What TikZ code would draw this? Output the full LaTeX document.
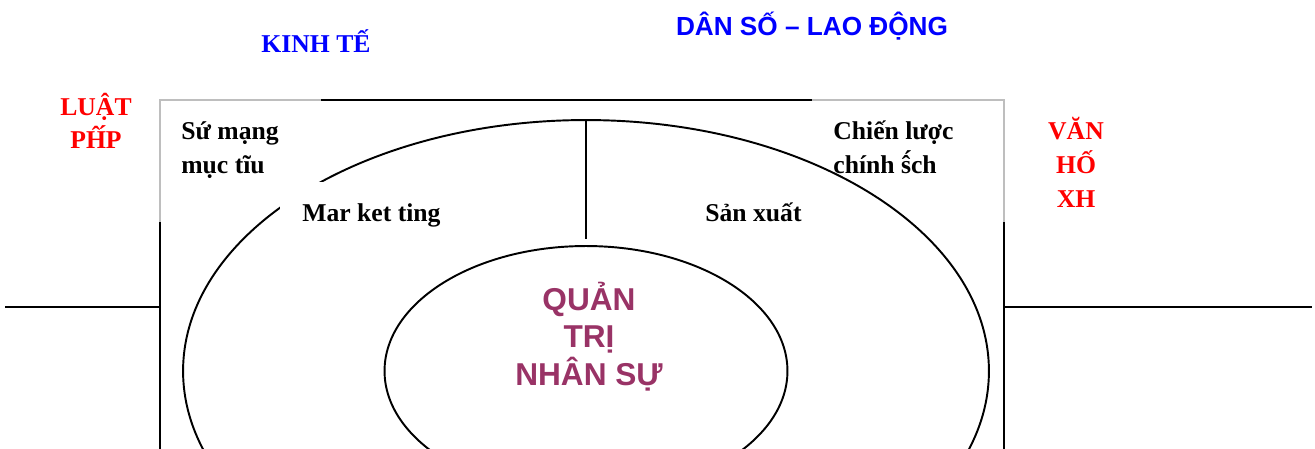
\documentclass[tikz,border=0pt]{standalone}
\usepackage{fontspec}
\setmainfont{Liberation Serif}
\newfontfamily\arialfont{Liberation Sans}
\usetikzlibrary{shapes.geometric, positioning}
\definecolor{lawred}{RGB}{255,0,0}
\definecolor{ecoblue}{RGB}{0,0,255}
\definecolor{hrplum}{RGB}{153,51,102}
\definecolor{framegray}{RGB}{190,190,190}

\begin{document}
\begin{tikzpicture}[
    x=0.02cm, y=-0.02cm,
    edge/.style={draw=black, line width=1.1pt},
    frame/.style={draw=framegray, line width=0.6pt},
    ring/.style={draw, ellipse, line width=1.1pt, inner sep=0pt},
    lbl/.style={inner sep=0pt, font=\bfseries\fontsize{14.6}{19.4}\selectfont},
    outside/.style={lbl, align=center, text=lawred},
    topic/.style={inner sep=0pt, text=ecoblue},
    core/.style={inner sep=0pt, align=center, text=hrplum, font=\arialfont\bfseries\fontsize{18}{21.3}\selectfont}
  ]
    \clip (0,0) rectangle (1315,449);

    % Frame
    \draw[frame] (160,222) |- (1004,100) -- (1004,222);
    \draw[edge] (321,100) -- (812,100);
    \draw[edge] (160,449) -- (160,222);
    \draw[edge] (1004,449) -- (1004,222);
    \draw[edge] (5,307) -- (160,307);
    \draw[edge] (1004,307) -- (1312,307);

    % Ellipses
    \node[ring, minimum width=16.12cm, minimum height=10.04cm] (outer) at (586,371) {};
    \node[ring, minimum width=8.06cm, minimum height=5cm] (inner) at (586,371) {};
    \draw[edge] (outer.north) -- ([yshift=0.12cm]inner.north);

    % Nodes (outside)
    \node[topic, anchor=base, font=\bfseries\fontsize{14.6}{17}\selectfont] (kinhte) at (316,53) {KINH TẾ};
    \node[topic, anchor=base, font=\arialfont\bfseries\fontsize{14.9}{17}\selectfont] (danso) at (812,36) {DÂN SỐ – LAO ĐỘNG};
    \node[outside, anchor=base, font=\bfseries\fontsize{14.6}{18.8}\selectfont] (luat) at (96,149) {LUẬT\\PĤ^^^^0301P};
    \node[outside, anchor=base] (vanhoa) at (1076,208) {VĂN\\HỐ\\XH};

    % Nodes (inside)
    \node[lbl, align=left, anchor=base west] (sumang) at (181,174) {Sứ mạng\\mục tĩu};
    \node[lbl, align=left, anchor=base west] (chienluoc) at (833,174) {Chiến lược\\chính ŝ^^^^0301ch};
    \node[lbl, anchor=base west, fill=white, inner sep=0.44cm] (marketing) at (280,222) {Mar ket ting};
    \node[lbl, anchor=base west] (sanxuat) at (705,222) {Sản xuất};
    \node[core, anchor=base] (quantri) at (589,385) {QUẢN\\TRỊ\\NHÂN SỰ};

\end{tikzpicture}
\end{document}
